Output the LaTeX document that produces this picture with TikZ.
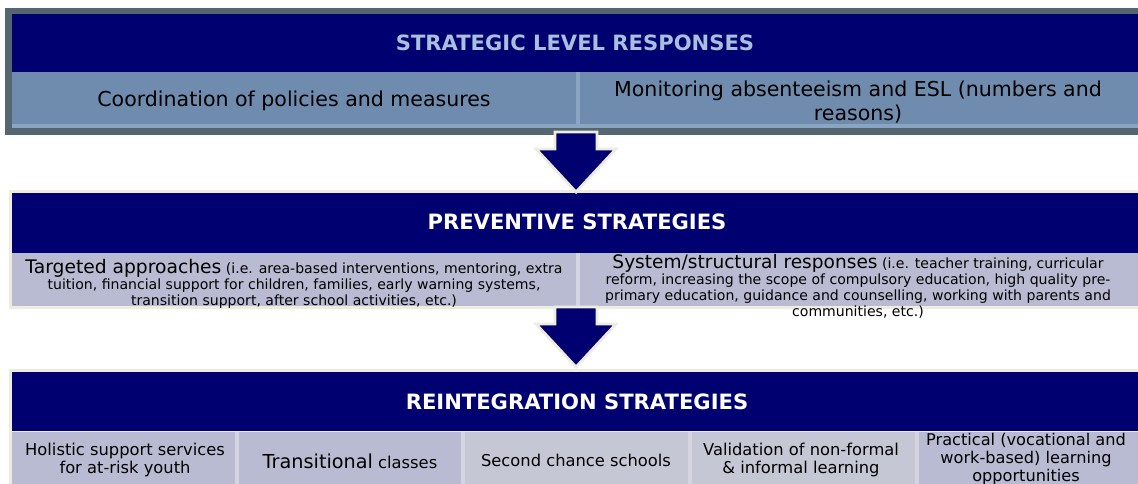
\documentclass[tikz,border=0pt]{standalone}
\usepackage{fontspec}
\setmainfont{DejaVu Sans}
\usetikzlibrary{positioning}

\definecolor{navy}{RGB}{0,0,112}
\definecolor{framegray}{RGB}{84,102,112}
\definecolor{steel}{RGB}{111,140,174}
\definecolor{steelline}{RGB}{138,165,193}
\definecolor{steeltext}{RGB}{168,192,222}
\definecolor{lavender}{RGB}{185,187,211}
\definecolor{palegray}{RGB}{198,199,213}
\definecolor{cellline}{RGB}{212,213,224}
\definecolor{beige}{RGB}{238,235,224}

\tikzset{
  headtext/.style={font=\fontsize{15}{17}\selectfont\bfseries, text=white, inner sep=0pt},
  rowtext/.style={font=\fontsize{14.6}{17}\selectfont, align=center, inner sep=0pt},
  smalltext/.style={font=\fontsize{10}{11.4}\selectfont, align=center, inner sep=0pt},
  celltext/.style={font=\fontsize{11.6}{13.5}\selectfont, align=center, inner sep=0pt},
  arrowfill/.style={fill=navy, draw=beige, line width=2pt},
  pics/downarrow/.style={code={
    \draw[arrowfill] (-21,0) -- (21,0) -- (21,17) -- (40,17) -- (0,60) -- (-40,17) -- (-21,17) -- cycle;
  }}
}

\begin{document}
\begin{tikzpicture}[x=0.025cm, y=-0.025cm]
    \useasboundingbox (0,0) rectangle (1138,484);

    % strategic level
    \fill[framegray] (5,8) rectangle (1145,135);
    \fill[navy] (12,14) rectangle (1145,72);
    \fill[steel] (12,72) rectangle (1145,128);
    \fill[steelline] (12,124) rectangle (1145,128);
    \fill[steelline] (576,72) rectangle (580,128);

    \node[headtext, text=steeltext] (strat) at (575,43) {STRATEGIC LEVEL RESPONSES};
    \node[rowtext] (coord) at (294,101) {Coordination of policies and measures};
    \node[rowtext] (monit) at (858,102) {Monitoring absenteeism and ESL (numbers and\\reasons)};

    % preventive
    \fill[beige] (9,190) rectangle (1145,309);
    \fill[navy] (12,193) rectangle (1145,253);
    \fill[lavender] (12,253) rectangle (1145,306);
    \fill[cellline] (576,253) rectangle (580,306);

    \node[headtext] (prev) at (577,222) {PREVENTIVE STRATEGIES};
    \node[smalltext] (targ) at (294,284) {{\fontsize{13.3}{16}\selectfont Targeted approaches} (i.e. area-based interventions, mentoring, extra\\tuition, financial support for children, families, early warning systems,\\transition support, after school activities, etc.)};
    \node[smalltext] (syst) at (858,286) {{\fontsize{13.2}{16}\selectfont System/structural responses} (i.e. teacher training, curricular\\reform, increasing the scope of compulsory education, high quality pre-\\primary education, guidance and counselling, working with parents and\\communities, etc.)};

    % reintegration
    \fill[beige] (9,369) rectangle (1145,490);
    \fill[navy] (12,372) rectangle (1145,431);
    \foreach \xa/\xb/\col in {12/237/lavender, 237/463/lavender, 463/690/palegray, 690/917/palegray, 917/1145/lavender}
        \fill[\col] (\xa,432) rectangle (\xb,490);
    \foreach \xd in {237,463,690,917}
        \fill[cellline] (\xd-2,432) rectangle (\xd+2,490);

    \node[headtext] (reint) at (577,402) {REINTEGRATION STRATEGIES};
    \node[celltext] (holis) at (125,460) {Holistic support services\\for at-risk youth};
    \node[celltext] (trans) at (350,461) {{\fontsize{13.7}{16}\selectfont Transitional} classes};
    \node[celltext] (second) at (576,460) {Second chance schools};
    \node[celltext] (valid) at (801,460) {Validation of non-formal\\\& informal learning};
    \node[celltext, font=\fontsize{11.5}{12.8}\selectfont] (pract) at (1026,459) {Practical (vocational and\\work-based) learning\\opportunities};

    % arrows between the levels
    \pic at (576,132) {downarrow};
    \pic at (576,307) {downarrow};
\end{tikzpicture}
\end{document}
